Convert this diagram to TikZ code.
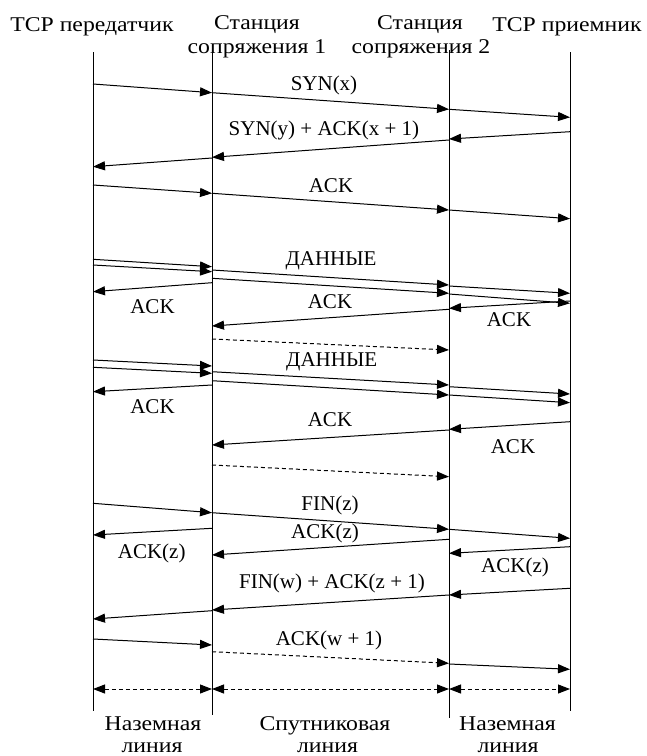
\documentclass[tikz,border=0pt]{standalone}
\usepackage{fontspec}
\setmainfont{Liberation Serif}
\newfontfamily\widefont[FakeStretch=1.13]{Liberation Serif}
\usetikzlibrary{arrows.meta}
\newcommand\LA{93}
\newcommand\LB{212}
\newcommand\LC{449}
\newcommand\LD{570}
\newcommand\msg[4]{\draw[msgarrow] (#1,#2) -- (#3,#4);}
\newcommand\dmsg[4]{\draw[msgarrow,dashed,dash pattern=on 4pt off 3pt] (#1,#2) -- (#3,#4);}
\begin{document}
\begin{tikzpicture}[x=1pt,y=-1pt,
  lifeline/.style={line width=1pt},
  msgarrow/.style={line width=1pt,-{Triangle[length=12pt,width=9pt]}},
  span/.style={line width=1pt,dashed,dash pattern=on 4pt off 3pt,{Triangle[length=12pt,width=9pt]}-{Triangle[length=12pt,width=9pt]}},
  lbl/.style={font=\fontsize{21}{25}\selectfont,inner sep=0pt},
  hd/.style={font=\widefont\fontsize{21}{25}\selectfont,inner sep=0pt,anchor=base}]
\useasboundingbox (0,0) rectangle (647,756);
% headers
\node[hd] (h1) at (92,31) {TCP передатчик};
\node[hd] (h2a) at (257,29) {Станция};
\node[hd] (h2b) at (257,53) {сопряжения 1};
\node[hd] (h3a) at (420,29) {Станция};
\node[hd] (h3b) at (421,53) {сопряжения 2};
\node[hd] (h4) at (567,31) {TCP приемник};
% lifelines
\coordinate (l1t) at (\LA,52); \coordinate (l1b) at (\LA,711);
\coordinate (l2t) at (\LB,45); \coordinate (l2b) at (\LB,715);
\coordinate (l3t) at (\LC,50); \coordinate (l3b) at (\LC,718);
\coordinate (l4t) at (\LD,52); \coordinate (l4b) at (\LD,711);
\draw[lifeline] (l1t) -- (l1b);
\draw[lifeline] (l2t) -- (l2b);
\draw[lifeline] (l3t) -- (l3b);
\draw[lifeline] (l4t) -- (l4b);
% SYN(x)
\msg{\LA}{84}{\LB}{92.7}
\msg{\LB}{92.7}{\LC}{109.3}
\msg{\LC}{109.3}{\LD}{117.3}
\node[lbl] (t1) at (324,85) {SYN(x)};
% SYN(y)+ACK(x+1)
\msg{\LD}{131.7}{\LC}{139}
\msg{\LC}{140}{\LB}{157.3}
\msg{\LB}{158}{\LA}{166.7}
\node[lbl] (t2) at (324,130) {SYN(y) + ACK(x + 1)};
% ACK
\msg{\LA}{185}{\LB}{193.3}
\msg{\LB}{193.3}{\LC}{210}
\msg{\LC}{210}{\LD}{218.7}
\node[lbl] (t3) at (331,186) {ACK};
% DATA 1
\msg{\LA}{259.3}{\LB}{266.7}
\msg{\LA}{265}{\LB}{271.7}
\msg{\LB}{270}{\LC}{285}
\msg{\LB}{278.3}{\LC}{293.3}
\msg{\LC}{286}{\LD}{293.3}
\msg{\LC}{294}{\LD}{303.3}
\node[lbl] (t4) at (331,260.7) {ДАННЫЕ};
\msg{\LB}{282.7}{\LA}{291.7}
\node[lbl] (t5) at (152.5,306.7) {ACK};
\msg{\LD}{301}{\LC}{308.3}
\node[lbl] (t6) at (509,320) {ACK};
\msg{\LC}{309.3}{\LB}{326}
\node[lbl] (t7) at (330,301.7) {ACK};
\dmsg{\LB}{339}{\LC}{350}
% DATA 2
\msg{\LA}{360}{\LB}{366}
\msg{\LA}{367.3}{\LB}{373.3}
\msg{\LB}{371.7}{\LC}{385}
\msg{\LB}{380.7}{\LC}{395}
\msg{\LC}{386.7}{\LD}{394}
\msg{\LC}{395}{\LD}{402.7}
\node[lbl] (t8) at (331.7,361.7) {ДАННЫЕ};
\msg{\LB}{385}{\LA}{391.7}
\node[lbl] (t9) at (152.5,406.7) {ACK};
\msg{\LD}{421.7}{\LC}{429.3}
\node[lbl] (t10) at (513,446.7) {ACK};
\msg{\LC}{430}{\LB}{445}
\node[lbl] (t11) at (330,420) {ACK};
\dmsg{\LB}{465}{\LC}{476.7}
% FIN(z)
\msg{\LA}{503.3}{\LB}{512.7}
\msg{\LB}{512.7}{\LC}{529.3}
\msg{\LC}{529.3}{\LD}{538.3}
\node[lbl] (t12) at (330,505) {FIN(z)};
\msg{\LB}{528.3}{\LA}{535}
\node[lbl] (t13) at (151.7,553.3) {ACK(z)};
\msg{\LC}{539.3}{\LB}{555}
\node[lbl] (t14) at (325,533.3) {ACK(z)};
\msg{\LD}{546.7}{\LC}{553.3}
\node[lbl] (t15) at (515,567.3) {ACK(z)};
% FIN(w)+ACK(z+1)
\msg{\LD}{588.3}{\LC}{595}
\msg{\LC}{595}{\LB}{610}
\msg{\LB}{610.7}{\LA}{619}
\node[lbl] (t16) at (332,583.3) {FIN(w) + ACK(z + 1)};
% ACK(w+1)
\msg{\LA}{639}{\LB}{645}
\dmsg{\LB}{651.7}{\LC}{663.3}
\msg{\LC}{664}{\LD}{669.3}
\node[lbl] (t17) at (329,640) {ACK(w + 1)};
% spans
\draw[span] (\LA,689) -- (\LB,689);
\draw[span] (\LB,689) -- (\LC,689);
\draw[span] (\LC,689) -- (\LD,689);
% bottom labels
\node[hd] (b1a) at (153,730) {Наземная};
\node[hd] (b1b) at (152,752) {линия};
\node[hd] (b2a) at (325,730) {Спутниковая};
\node[hd] (b2b) at (327.5,752) {линия};
\node[hd] (b3a) at (507.5,730) {Наземная};
\node[hd] (b3b) at (508,752) {линия};
\end{tikzpicture}
\end{document}
